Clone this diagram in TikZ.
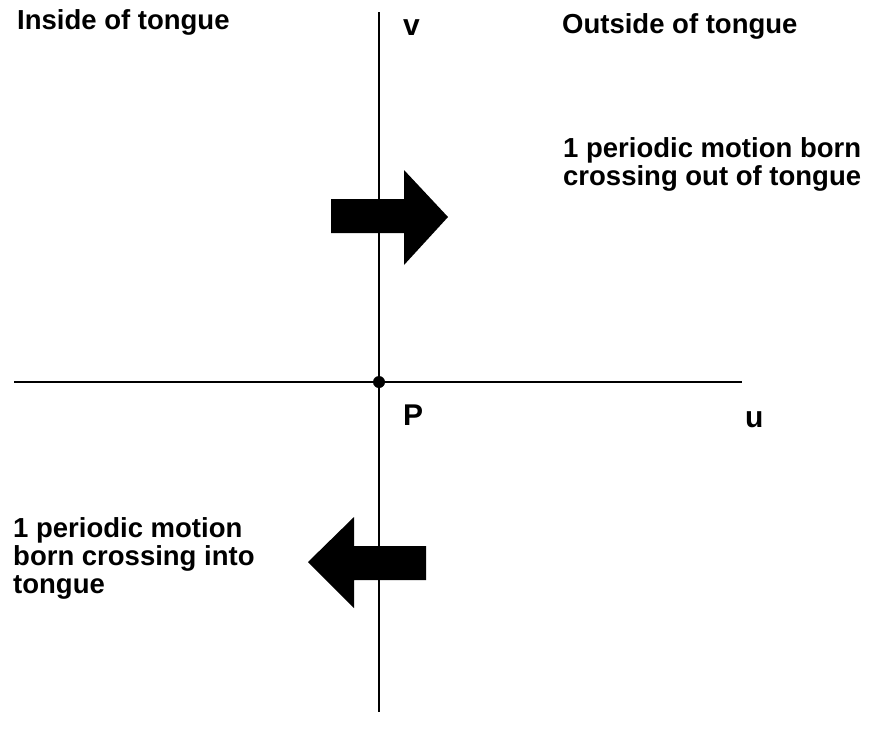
\documentclass[tikz,border=0pt]{standalone}
\usepackage{fontspec}
\setmainfont{Liberation Sans}
\begin{document}
\begin{tikzpicture}[x=1pt,y=-1pt,
  txt/.style={inner sep=0pt,anchor=base west,font=\fontsize{27.5}{28}\selectfont\bfseries,align=left},
  lbl/.style={inner sep=0pt,anchor=base west,font=\fontsize{30}{30}\selectfont\bfseries},
  axis/.style={line width=2.8pt,black},
  bigarrow/.style={fill=black,draw=none}]
\useasboundingbox[fill=white] (0,0) rectangle (870,740);
% axes
\coordinate (vtop) at (379,12);
\coordinate (vbot) at (379,712);
\coordinate (hl) at (14,382);
\coordinate (hr) at (742,382);
\coordinate (P0) at (379,382);
\draw[axis] (vtop) -- (vbot);
\draw[axis] (hl) -- (hr);
\fill (P0) circle (6);
% labels
\node[lbl] (v) at (403,35) {v};
\node[lbl] (P) at (403,425) {P};
\node[lbl] (u) at (745,427) {u};
\node[txt] (inside) at (17,29) {Inside of tongue};
\node[txt] (outside) at (562,33) {Outside of tongue};
\node[txt] (out) at (563,185) {1 periodic motion born\\crossing out of tongue};
\node[txt] (in) at (13,593) {1 periodic motion\\born crossing into\\tongue};
% big arrows
\fill[bigarrow] (331,199) -- (404,199) -- (404,170) -- (448,217) -- (404,265) -- (404,233) -- (331,233) -- cycle;
\fill[bigarrow] (426,546) -- (354,546) -- (354,517) -- (308,562) -- (354,608) -- (354,580) -- (426,580) -- cycle;
\end{tikzpicture}
\end{document}
